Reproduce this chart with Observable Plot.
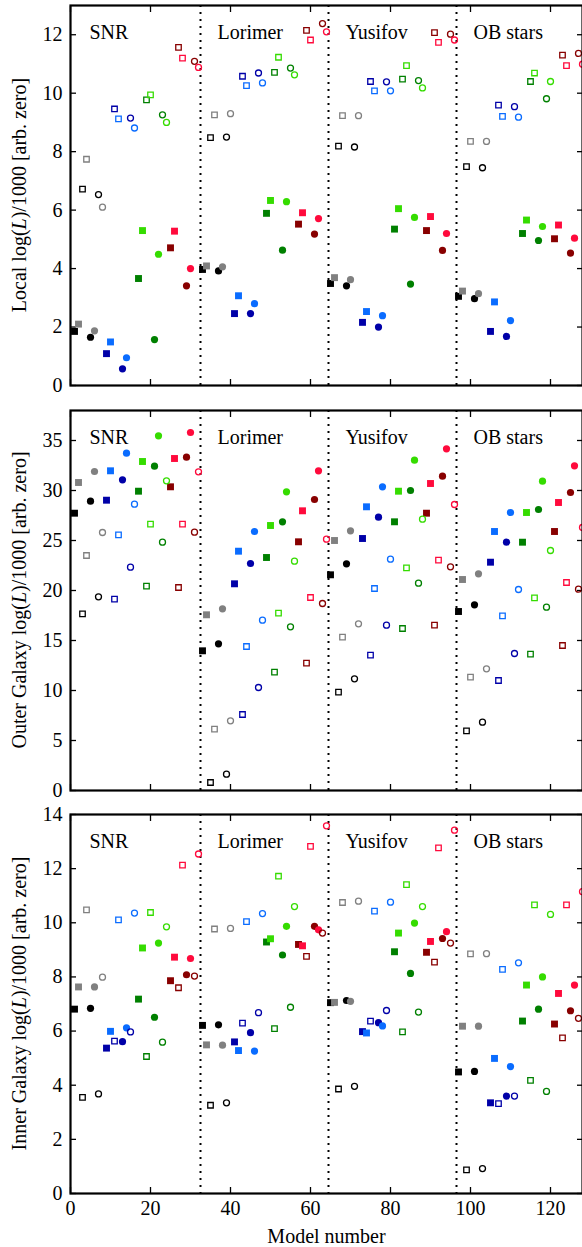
<!DOCTYPE html>
<html><head><meta charset="utf-8">
<script src="https://cdn.jsdelivr.net/npm/d3@7"></script>
<script src="https://cdn.jsdelivr.net/npm/@observablehq/plot@0.6"></script>
<style>
body{margin:0;background:#fff;}
#chart svg{display:block;overflow:visible;}
</style></head><body><div id="chart"></div>
<script>
// ---- data ----
const sections = ["SNR", "Lorimer", "Yusifov", "OB stars"];
const sectionStarts = [0, 32, 64, 96];
const sectionBoundaries = [32.5, 64.5, 96.5];
const groupColors = [["#000000", "#808080"], ["#0000a8", "#0a6cff"], ["#008000", "#35dc00"], ["#880000", "#ff0a3c"]];
const slotShape = ["square", "square", "square", "square", "circle", "circle", "circle", "circle"];
const slotFilled = [true, true, false, false, true, true, false, false];
const slotShade = [0, 1, 0, 1, 0, 1, 0, 1];
const xTicks = [0, 20, 40, 60, 80, 100, 120];
const localTicks = [0, 2, 4, 6, 8, 10, 12];
const outerTicks = [0, 5, 10, 15, 20, 25, 30, 35];
const innerTicks = [0, 2, 4, 6, 8, 10, 12, 14];

const localValues = [
  1.85, 2.10, 6.72, 7.74, 1.65, 1.87, 6.53, 6.10, 1.09, 1.49, 9.46, 9.12, 0.57, 0.95, 9.15, 8.81,
  3.66, 5.30, 9.77, 9.94, 1.57, 4.49, 9.26, 9.00, 4.71, 5.28, 11.57, 11.20, 3.41, 4.00, 11.09, 10.88,
  3.97, 4.09, 8.48, 9.26, 3.92, 4.06, 8.50, 9.30, 2.46, 3.07, 10.58, 10.26, 2.46, 2.80, 10.69, 10.35,
  5.89, 6.33, 10.71, 11.23, 4.63, 6.29, 10.86, 10.63, 5.52, 5.91, 12.15, 11.82, 5.18, 5.71, 12.38, 12.10,
  3.49, 3.69, 8.19, 9.23, 3.41, 3.62, 8.16, 9.23, 2.16, 2.53, 10.40, 10.08, 2.00, 2.39, 10.39, 10.08,
  5.35, 6.05, 10.48, 10.94, 3.47, 5.75, 10.43, 10.18, 5.30, 5.78, 12.07, 11.74, 4.62, 5.20, 12.02, 11.82,
  3.05, 3.23, 7.49, 8.35, 2.97, 3.14, 7.45, 8.35, 1.85, 2.86, 9.59, 9.21, 1.68, 2.22, 9.54, 9.18,
  5.20, 5.66, 10.40, 10.69, 4.96, 5.44, 9.81, 10.40, 5.02, 5.49, 11.30, 10.94, 4.53, 5.04, 11.36, 10.99
];
const outerValues = [
  27.73, 30.8, 17.67, 23.5, 28.93, 31.9, 19.37, 25.8, 29.03, 31.97, 19.13, 25.57, 31.07, 33.73, 22.33, 28.63,
  29.93, 32.9, 20.43, 26.63, 32.43, 35.47, 24.83, 30.97, 30.37, 33.2, 20.3, 26.63, 33.33, 35.8, 25.83, 31.87,
  13.97, 17.57, 0.8, 6.13, 14.67, 18.17, 1.63, 6.97, 20.67, 23.93, 7.6, 14.4, 22.7, 25.9, 10.3, 17.03,
  23.3, 26.5, 11.83, 17.73, 26.87, 29.87, 16.37, 22.93, 24.87, 27.97, 12.73, 19.3, 29.1, 31.97, 18.7, 25.13,
  21.57, 25.0, 9.83, 15.33, 22.67, 25.97, 11.17, 16.67, 25.2, 28.37, 13.53, 20.2, 27.33, 30.37, 16.53, 23.13,
  26.87, 29.93, 16.2, 22.27, 30.0, 33.03, 20.73, 27.13, 27.73, 30.7, 16.53, 23.03, 31.43, 34.17, 22.37, 28.6,
  17.9, 21.1, 5.97, 11.33, 18.57, 21.67, 6.83, 12.17, 22.83, 25.9, 11.0, 17.47, 24.83, 27.8, 13.7, 20.1,
  24.83, 27.8, 13.63, 19.27, 28.1, 30.93, 18.33, 24.0, 25.9, 28.8, 14.5, 20.8, 29.8, 32.47, 20.13, 26.3
];
const innerValues = [
  6.81, 7.63, 3.55, 10.48, 6.84, 7.63, 3.68, 7.99, 5.37, 5.99, 5.63, 10.11, 5.61, 6.12, 5.97, 10.36,
  7.18, 9.07, 5.06, 10.38, 6.51, 9.25, 5.59, 9.85, 7.86, 8.73, 7.6, 12.13, 8.08, 8.68, 8.03, 12.54,
  6.21, 5.49, 3.26, 9.77, 6.23, 5.48, 3.35, 9.79, 5.6, 5.28, 6.29, 10.04, 5.94, 5.26, 6.68, 10.34,
  9.29, 9.41, 6.09, 11.72, 8.81, 9.87, 6.88, 10.6, 9.2, 9.15, 8.76, 12.82, 9.87, 9.74, 9.62, 13.58,
  7.05, 7.06, 3.86, 10.75, 7.13, 7.1, 3.96, 10.8, 5.98, 5.93, 6.37, 10.43, 6.31, 6.19, 6.76, 10.76,
  8.93, 9.62, 5.97, 11.41, 8.13, 9.99, 6.7, 10.6, 8.91, 9.31, 8.55, 12.77, 9.42, 9.67, 9.25, 13.42,
  4.49, 6.18, 0.87, 8.85, 4.51, 6.18, 0.92, 8.86, 3.35, 4.99, 3.32, 8.28, 3.6, 4.69, 3.6, 8.52,
  6.37, 7.7, 4.18, 10.66, 6.81, 8.0, 3.77, 10.31, 6.26, 7.39, 5.75, 10.66, 6.75, 7.7, 6.47, 11.15
];

// ---- build ----
function rows(values) {
  return values.map((v, i) => {
    const s = i % 8, g = Math.floor((i % 32) / 8);
    return {model: i + 1, value: v, color: groupColors[g][slotShade[s]], shape: slotShape[s], filled: slotFilled[s]};
  });
}

const FONT = "'Liberation Serif', 'Times New Roman', serif";

function panel({values, yDomain, yTicks, height, marginTop, marginBottom, prefix, showX}) {
  const data = rows(values);
  const marks = [
    Plot.ruleX(sectionBoundaries, {stroke: "#000", strokeWidth: 2, strokeDasharray: "2,5"}),
    Plot.axisY(yTicks, {anchor: "left", tickSize: -6, tickPadding: 14, fontSize: 20, label: null, strokeWidth: 1.3}),
    Plot.axisY(yTicks, {anchor: "right", tickSize: -6, tickFormat: () => "", label: null, strokeWidth: 1.3}),
    Plot.axisX(xTicks, {anchor: "bottom", tickSize: -6, tickPadding: 13, fontSize: 20, tickFormat: showX ? (d => String(d)) : () => "", label: null, strokeWidth: 1.3}),
    Plot.axisX(xTicks, {anchor: "top", tickSize: -6, tickFormat: () => "", label: null, strokeWidth: 1.3}),
    Plot.dot(data.filter(d => d.shape === "square" && d.filled), {x: "model", y: "value", symbol: "square", r: 3.9, fill: "color", clip: true}),
    Plot.dot(data.filter(d => d.shape === "circle" && d.filled), {x: "model", y: "value", symbol: "circle", r: 3.6, fill: "color", clip: true}),
    Plot.dot(data.filter(d => d.shape === "square" && !d.filled), {x: "model", y: "value", symbol: "square", r: 3.1, fill: "none", stroke: "color", strokeWidth: 1.3, clip: true}),
    Plot.dot(data.filter(d => d.shape === "circle" && !d.filled), {x: "model", y: "value", symbol: "circle", r: 3.0, fill: "none", stroke: "color", strokeWidth: 1.3, clip: true}),
    Plot.text(sections, {x: (d, i) => sectionStarts[i], text: d => d, frameAnchor: "top", dx: 19, dy: 27, textAnchor: "start", lineAnchor: "middle", fontSize: 20, fill: "#000"}),
    Plot.frame({stroke: "#000", strokeWidth: 2.2})
  ];
  if (showX) marks.push(Plot.text(["Model number"], {frameAnchor: "bottom", dy: 43, lineAnchor: "middle", fontSize: 20, fill: "#000"}));
  const svg = Plot.plot({
    width: 582, height, marginLeft: 70, marginRight: 0, marginTop, marginBottom,
    style: {fontFamily: FONT, fontSize: "20px", color: "#000", background: "transparent", overflow: "visible"},
    x: {domain: [0, 128], axis: null},
    y: {domain: yDomain, axis: null},
    color: {type: "identity"},
    marks
  });
  const cy = marginTop + (height - marginTop - marginBottom) / 2;
  const t = d3.select(svg).append("text")
    .attr("transform", `translate(19,${cy}) rotate(-90)`)
    .attr("text-anchor", "middle").attr("dy", "0.35em")
    .attr("font-family", FONT).attr("font-size", 20).attr("fill", "#000");
  t.append("tspan").text(prefix + " log(");
  t.append("tspan").attr("font-style", "italic").text("L");
  t.append("tspan").text(")/1000 [arb. zero]");
  return svg;
}

const root = document.getElementById("chart");
root.appendChild(panel({values: localValues, yDomain: [0, 13], yTicks: localTicks, height: 390, marginTop: 5, marginBottom: 5, prefix: "Local", showX: false}));
root.appendChild(panel({values: outerValues, yDomain: [0, 38], yTicks: outerTicks, height: 403, marginTop: 20, marginBottom: 3, prefix: "Outer Galaxy", showX: false}));
root.appendChild(panel({values: innerValues, yDomain: [0, 14], yTicks: innerTicks, height: 454, marginTop: 21, marginBottom: 54, prefix: "Inner Galaxy", showX: true}));
</script></body></html>
